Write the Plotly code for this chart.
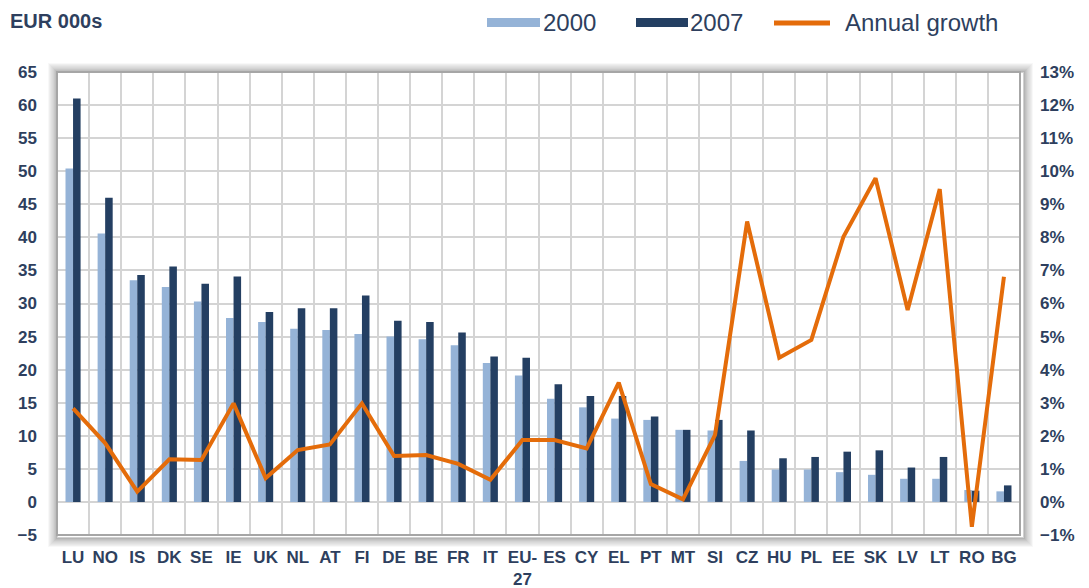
import plotly.graph_objects as go

categories = ["LU", "NO", "IS", "DK", "SE", "IE", "UK", "NL", "AT", "FI", "DE", "BE", "FR", "IT",
              "EU-<br>27", "ES", "CY", "EL", "PT", "MT", "SI", "CZ", "HU", "PL", "EE", "SK", "LV",
              "LT", "RO", "BG"]
values_2000 = [50.4, 40.6, 33.5, 32.5, 30.3, 27.8, 27.2, 26.2, 26.0, 25.4, 25.0, 24.6, 23.7, 21.0,
               19.1, 15.6, 14.3, 12.6, 12.4, 10.9, 10.8, 6.2, 4.9, 4.9, 4.5, 4.1, 3.5, 3.5, 1.8, 1.6]
values_2007 = [61.0, 46.0, 34.3, 35.6, 33.0, 34.1, 28.7, 29.3, 29.3, 31.2, 27.4, 27.2, 25.6, 22.0,
               21.8, 17.8, 16.0, 16.0, 12.9, 10.9, 12.4, 10.8, 6.6, 6.8, 7.6, 7.8, 5.2, 6.8, 1.7, 2.5]
growth_pct = [2.83, 1.78, 0.31, 1.29, 1.27, 2.98, 0.72, 1.57, 1.74, 2.98, 1.39, 1.42, 1.15, 0.67,
              1.87, 1.87, 1.62, 3.61, 0.54, 0.08, 2.03, 8.48, 4.36, 4.90, 8.02, 9.79, 5.80, 9.46,
              -0.75, 6.81]

C2000 = "#95B3D7"
C2007 = "#243F62"
CGROW = "#E46C0A"
TXT = "#2E3F5E"

fig = go.Figure()
fig.add_trace(go.Bar(x=categories, y=values_2000, name="2000", marker_color=C2000,
                     marker_line_width=0))
fig.add_trace(go.Bar(x=categories, y=values_2007, name="2007", marker_color=C2007,
                     marker_line_width=0))
fig.add_trace(go.Scatter(x=categories, y=growth_pct, name="Annual growth", yaxis="y2",
                         mode="lines", line=dict(color=CGROW, width=4)))

# page has an 8px body margin; figure is drawn offset by (8, 8)
OFF = 8
W, H = 1081, 580
PL, PR, PT, PB = 57, 1020, 72, 535   # plot area in page pixels
ml, mt = PL - OFF, PT - OFF
mr = W - (PR - OFF)
mb = H - (PB - OFF)
pw, ph = PR - PL, PB - PT

shapes = []
# drop shadow around plot area (heavier bottom/right)
for k, op in [(10, 0.04), (9, 0.06), (8, 0.08), (7, 0.10), (6, 0.12), (5, 0.15),
              (4, 0.18), (3, 0.22), (2, 0.27)]:
    shapes.append(dict(type="rect", xref="paper", yref="paper",
                       x0=-(k - 2) / pw, x1=1 + (k + 2) / pw,
                       y0=-(k + 1) / ph, y1=1 + (k - 2) / ph,
                       line=dict(color=f"rgba(80,80,80,{op})", width=2),
                       fillcolor="rgba(0,0,0,0)", layer="below"))
shapes.append(dict(type="rect", xref="paper", yref="paper", x0=0, x1=1, y0=0, y1=1,
                   line=dict(color="#A6A6A6", width=2), fillcolor="rgba(0,0,0,0)", layer="above"))


def px_x(x):
    return (x - PL) / pw


def px_y(y):
    return 1 - (y - PT) / ph


# custom legend (page pixel positions)
shapes.append(dict(type="rect", xref="paper", yref="paper", x0=px_x(487), x1=px_x(540),
                   y0=px_y(27), y1=px_y(18), fillcolor=C2000, line_width=0))
shapes.append(dict(type="rect", xref="paper", yref="paper", x0=px_x(636), x1=px_x(688),
                   y0=px_y(27), y1=px_y(18), fillcolor=C2007, line_width=0))
shapes.append(dict(type="line", xref="paper", yref="paper", x0=px_x(774), x1=px_x(830),
                   y0=px_y(23), y1=px_y(23), line=dict(color=CGROW, width=5)))

legfont = dict(family="Liberation Sans, Arial", size=24, color=TXT)
annotations = [
    dict(text="2000", x=px_x(541), y=px_y(23), xref="paper", yref="paper",
         xanchor="left", yanchor="middle", showarrow=False, font=legfont),
    dict(text="2007", x=px_x(688), y=px_y(23), xref="paper", yref="paper",
         xanchor="left", yanchor="middle", showarrow=False, font=legfont),
    dict(text="Annual growth", x=px_x(843), y=px_y(23), xref="paper", yref="paper",
         xanchor="left", yanchor="middle", showarrow=False, font=legfont),
    dict(text="<b>EUR 000s</b>", x=px_x(8), y=px_y(21), xref="paper", yref="paper",
         xanchor="left", yanchor="middle", showarrow=False,
         font=dict(family="Liberation Sans, Arial", size=20, color=TXT)),
]

tickfont = dict(family="Liberation Sans, Arial", size=17, color=TXT, weight="bold")

fig.update_layout(
    width=W, height=H,
    margin=dict(l=ml, r=mr, t=mt, b=mb, autoexpand=False),
    paper_bgcolor="white", plot_bgcolor="white",
    barmode="group", bargap=0.53, bargroupgap=0,
    showlegend=False,
    shapes=shapes, annotations=annotations,
    xaxis=dict(type="category", range=[-0.5, 29.5], tickson="boundaries", tickangle=0,
               showgrid=True, gridcolor="#D4D4D4", gridwidth=1.5,
               ticks="", tickfont=tickfont, showline=False, zeroline=False,
               ticklabelstandoff=10),
    yaxis=dict(range=[-5, 65], dtick=5, tick0=0, showgrid=True, gridcolor="#D4D4D4",
               gridwidth=1.5, zeroline=True, zerolinecolor="#D4D4D4", zerolinewidth=1.5,
               tickfont=tickfont, ticks="", ticklabelstandoff=19, showline=False),
    yaxis2=dict(range=[-1, 13], dtick=1, tick0=0, overlaying="y", side="right",
                showgrid=False, zeroline=False, ticksuffix="%", tickfont=tickfont,
                ticks="", ticklabelstandoff=19, showline=False),
)

fig.write_html("out.html")
